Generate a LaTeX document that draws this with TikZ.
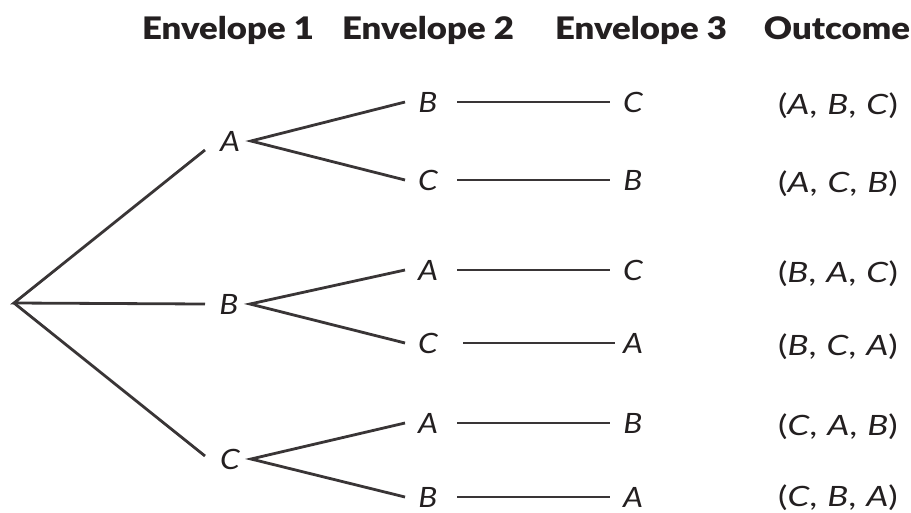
\documentclass[tikz,border=0pt]{standalone}
\usepackage{fontspec}
\setmainfont{Lato}[FakeStretch=1.13]
\newfontfamily\headfont{Lato Black}[FakeStretch=1.12]
\newfontfamily\outfont{Lato}[FakeStretch=1.25]
\definecolor{ink}{HTML}{231F20}
\newcommand{\gap}{\hspace{10pt}}
\begin{document}
\begin{tikzpicture}[x=1pt,y=-1pt,
  every node/.style={inner sep=0pt,text=ink},
  head/.style={font=\headfont\fontsize{31}{33}\selectfont,anchor=base},
  letter/.style={font=\fontsize{28}{30}\selectfont\itshape},
  outcome/.style={font=\outfont\fontsize{28}{30}\selectfont,anchor=base},
  branch/.style={draw=ink!90,line width=2.8pt}]
\useasboundingbox (0,0) rectangle (911,512);

% column headings
\node[head] (h1) at (228,39) {Envelope 1};
\node[head] (h2) at (428,39) {Envelope 2};
\node[head] (h3) at (641,39) {Envelope 3};
\node[head] (h4) at (837,39) {Outcome};

% root and first envelope
\coordinate (root) at (14,303);
\node[letter] (a1) at (230,141) {A};
\node[letter] (b1) at (229,304) {B};
\node[letter] (c1) at (230,459) {C};

% second envelope
\node[letter] (ab) at (428,102) {B};
\node[letter] (ac) at (428,180) {C};
\node[letter] (ba) at (428,270) {A};
\node[letter] (bc) at (428,343) {C};
\node[letter] (ca) at (428,423) {A};
\node[letter] (cb) at (428,497) {B};

% third envelope
\node[letter] (abc) at (633,102) {C};
\node[letter] (acb) at (633,180) {B};
\node[letter] (bac) at (633,270) {C};
\node[letter] (bca) at (633,343) {A};
\node[letter] (cab) at (633,423) {B};
\node[letter] (cba) at (633,497) {A};

% outcomes (baseline-aligned)
\node[outcome] (o1) at (838,114) {(\textit{A},\gap\textit{B},\gap\textit{C})};
\node[outcome] (o2) at (838,192) {(\textit{A},\gap\textit{C},\gap\textit{B})};
\node[outcome] (o3) at (838,282) {(\textit{B},\gap\textit{A},\gap\textit{C})};
\node[outcome] (o4) at (838,355) {(\textit{B},\gap\textit{C},\gap\textit{A})};
\node[outcome] (o5) at (838,435) {(\textit{C},\gap\textit{A},\gap\textit{B})};
\node[outcome] (o6) at (838,506) {(\textit{C},\gap\textit{B},\gap\textit{A})};

% root branches
\draw[branch] ([xshift=-25pt,yshift=-9pt]a1.center) -- (root) -- ([xshift=-24pt]b1.center);
\draw[branch] (root) -- ([xshift=-25pt,yshift=3pt]c1.center);

% second-level branches
\foreach \p/\u/\l in {a1/ab/ac, b1/ba/bc, c1/ca/cb}{
  \draw[branch] ([xshift=-23pt]\u.center) -- ([xshift=21pt]\p.center) -- ([xshift=-23pt]\l.center);
}

% third-level links
\foreach \s/\t in {ab/abc, ac/acb, ba/bac, ca/cab, cb/cba}{
  \draw[branch] ([xshift=29pt]\s.center) -- ([xshift=-23pt]\t.center);
}
\draw[branch] ([xshift=35pt]bc.center) -- ([xshift=-18pt]bca.center);
\end{tikzpicture}
\end{document}
